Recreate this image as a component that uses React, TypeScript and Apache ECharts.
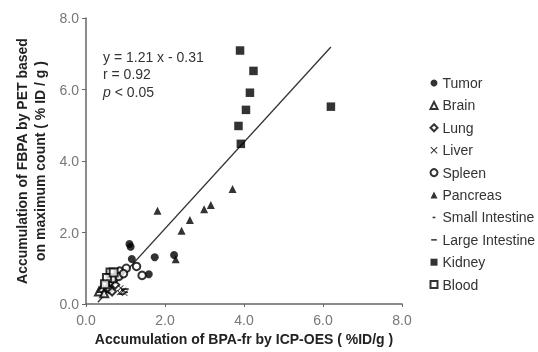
import React, { useEffect, useRef } from "react";
import * as echarts from "echarts";

const tumor = [[1.10, 1.68], [1.13, 1.60], [1.16, 1.26], [1.74, 1.31], [2.23, 1.37], [1.59, 0.83]];
const brain = [[0.33, 0.35], [0.41, 0.45], [0.46, 0.30], [0.55, 0.50]];
const lung = [[0.58, 0.42], [0.66, 0.35], [0.74, 0.54], [0.62, 0.62]];
const liver = [[0.88, 0.45], [0.95, 0.38], [0.98, 0.30], [0.85, 0.32]];
const spleen = [[0.85, 0.92], [1.02, 1.0], [1.28, 1.05], [1.42, 0.80], [0.83, 0.77], [0.95, 0.85]];
const pancreas = [[1.81, 2.61], [2.42, 2.05], [2.63, 2.35], [2.99, 2.65], [3.16, 2.77], [3.71, 3.22], [2.27, 1.25]];
const smallIntestine = [[0.93, 0.40], [1.02, 0.33]];
const largeIntestine = [[0.90, 0.28], [1.00, 0.42]];
const kidney = [[3.90, 7.09], [4.24, 6.52], [4.15, 5.91], [4.05, 5.43], [3.86, 4.98], [3.92, 4.48], [6.20, 5.52]];
const blood = [[0.62, 0.88], [0.65, 0.72], [0.53, 0.73], [0.48, 0.55], [0.70, 0.88]];
const fitLine = [[0.3, 0.05], [6.2, 7.19]];

const xTitle = "Accumulation of BPA-fr by ICP-OES ( %ID/g )";
const yTitle = "Accumulation of FBPA by PET based\non maximum count ( % ID / g )";

const X_SYM = "path://M0,1L1,0L5,4L9,0L10,1L6,5L10,9L9,10L5,6L1,10L0,9L4,5Z";
const SMALL_DASH = "path://M0,0M10,10M3,4H7V6.2H3Z";
const LARGE_DASH = "path://M0,0M10,10M1,4H9V6.2H1Z";

const FONT = "Liberation Sans, Arial, sans-serif";

export default function App() {
  const ref = useRef<HTMLDivElement>(null);
  useEffect(() => {
    const chart = echarts.init(ref.current!, undefined, { renderer: "svg" });
    const mk = (name: string, data: number[][], symbol: string, size: any, empty = false) => ({
      name,
      type: "scatter",
      data,
      symbol,
      symbolSize: size,
      itemStyle: empty
        ? { color: "#000", borderColor: "#000", borderWidth: 1.3 }
        : { color: "#000" },
      z: 3,
    });
    chart.setOption({
      animation: false,
      textStyle: { fontFamily: FONT },
      grid: { left: 86, right: 136, top: 18, bottom: 48 },
      xAxis: {
        type: "value",
        min: 0,
        max: 8,
        interval: 2,
        name: xTitle,
        nameLocation: "middle",
        nameGap: 26,
        nameTextStyle: { fontFamily: FONT, fontSize: 14, fontWeight: "bold", color: "#222" },
        splitLine: { show: false },
        axisLine: { lineStyle: { color: "#666", width: 1.5 } },
        axisTick: { show: true, length: 3, lineStyle: { color: "#666" } },
        axisLabel: { formatter: (v: number) => v.toFixed(1), color: "#777", fontSize: 14, fontFamily: FONT, margin: 9 },
      },
      yAxis: {
        type: "value",
        min: 0,
        max: 8,
        interval: 2,
        name: yTitle,
        nameLocation: "middle",
        nameRotate: 90,
        nameGap: 37,
        nameTextStyle: { fontFamily: FONT, fontSize: 14, fontWeight: "bold", color: "#222", lineHeight: 18 },
        splitLine: { show: false },
        axisLine: { show: true, lineStyle: { color: "#666", width: 1.5 } },
        axisTick: { show: true, length: 4, lineStyle: { color: "#666" } },
        axisLabel: { formatter: (v: number) => v.toFixed(1), color: "#777", fontSize: 14, fontFamily: FONT, margin: 7 },
      },
      legend: {
        orient: "vertical",
        left: 429.5,
        top: 76,
        padding: 0,
        itemWidth: 7,
        itemHeight: 7,
        itemGap: 8.4,
        symbolKeepAspect: true,
        textStyle: { fontFamily: FONT, fontSize: 14, color: "#333" },
        data: ["Tumor", "Brain", "Lung", "Liver", "Spleen", "Pancreas", "Small Intestine", "Large Intestine", "Kidney", "Blood"],
      },
      graphic: [
        {
          type: "text",
          left: 103,
          top: 48,
          style: {
            text: "y = 1.21 x - 0.31\nr = 0.92\n{i|p} < 0.05",
            font: "14px " + FONT,
            fill: "#333",
            lineHeight: 17.5,
            rich: { i: { fontStyle: "italic", fontSize: 14, fontFamily: FONT, fill: "#333" } },
          },
        },
      ],
      series: [
        {
          name: "fit",
          type: "line",
          data: fitLine,
          symbol: "none",
          lineStyle: { color: "#333", width: 1.3 },
          z: 2,
        },
        mk("Tumor", tumor, "circle", 8),
        mk("Brain", brain, "emptyTriangle", 8, true),
        mk("Lung", lung, "emptyDiamond", 8, true),
        mk("Liver", liver, X_SYM, 6),
        mk("Spleen", spleen, "emptyCircle", 7.5, true),
        mk("Pancreas", pancreas, "triangle", 8),
        mk("Small Intestine", smallIntestine, SMALL_DASH, 8),
        mk("Large Intestine", largeIntestine, LARGE_DASH, 8),
        mk("Kidney", kidney, "rect", 8.5),
        mk("Blood", blood, "emptyRect", 8, true),
      ],
    });
    return () => chart.dispose();
  }, []);
  return <div ref={ref} style={{ position: "fixed", left: 0, top: 0, width: 538, height: 352 }} />;
}
